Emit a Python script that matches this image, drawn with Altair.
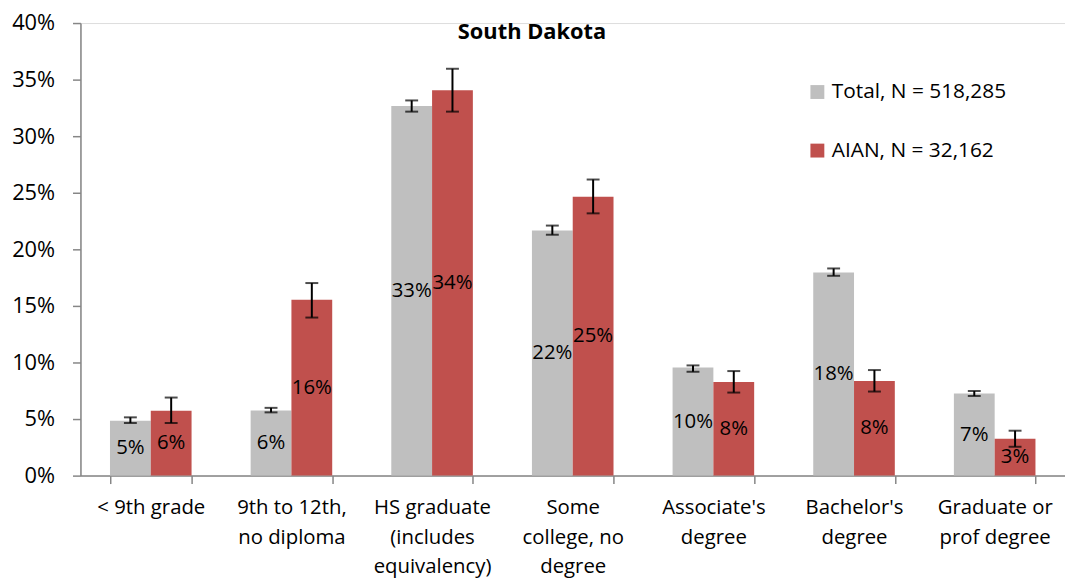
import altair as alt
import pandas as pd

categories = [
    "<  9th grade",
    "9th to 12th,\nno diploma",
    "HS graduate\n(includes\nequivalency)",
    "Some\ncollege, no\ndegree",
    "Associate's\ndegree",
    "Bachelor's\ndegree",
    "Graduate or\nprof degree",
]
series = ["Total, N = 518,285", "AIAN, N = 32,162"]
total_vals = [4.85, 5.76, 32.66, 21.67, 9.55, 17.96, 7.25]
total_lo = [4.65, 5.59, 32.17, 21.29, 9.18, 17.66, 7.04]
total_hi = [5.15, 5.99, 33.16, 22.10, 9.74, 18.31, 7.48]
aian_vals = [5.73, 15.55, 34.06, 24.65, 8.27, 8.36, 3.25]
aian_lo = [4.65, 13.97, 32.17, 23.18, 7.34, 7.43, 2.55]
aian_hi = [6.90, 17.02, 35.96, 26.17, 9.24, 9.33, 3.97]
colors = ["#BFBFBF", "#C0504D"]

rows = []
for s, vals, lo, hi in [(series[0], total_vals, total_lo, total_hi),
                        (series[1], aian_vals, aian_lo, aian_hi)]:
    for c, v, l, h in zip(categories, vals, lo, hi):
        rows.append({"cat": c, "series": s, "value": v, "lo": l, "hi": h,
                     "mid": v / 2, "label": f"{round(v):.0f}%"})
df = pd.DataFrame(rows)

FONT = "Open Sans"

xscale = alt.Scale(domain=categories, paddingInner=0.42, paddingOuter=0.21)
xoff = alt.XOffset("series:N", sort=series,
                   scale=alt.Scale(domain=series, paddingInner=0, paddingOuter=0))
yscale = alt.Scale(domain=[0, 40], nice=False)

base = alt.Chart(df)

bars = base.mark_bar(stroke=None).encode(
    x=alt.X("cat:N", sort=categories, scale=xscale, title=None,
            axis=alt.Axis(orient="bottom", labelAngle=0, ticks=True, tickBand="extent",
                          tickColor="#868686", tickSize=8, tickWidth=1.5,
                          domain=True, domainColor="#868686", domainWidth=1.5,
                          labelExpr="split(datum.label, '\\n')",
                          labelFont=FONT, labelFontSize=20.5, labelColor="#000000",
                          labelLineHeight=30, labelPadding=14, labelBaseline="top")),
    xOffset=xoff,
    y=alt.Y("value:Q", scale=yscale, title=None,
            axis=alt.Axis(values=list(range(0, 45, 5)), labelExpr="datum.value + '%'",
                          grid=False, domainColor="#868686", domainWidth=1.5,
                          tickColor="#868686", tickSize=8, tickWidth=1.5,
                          labelFont=FONT, labelFontSize=22, labelColor="#000000",
                          labelPadding=18)),
    color=alt.Color("series:N", sort=series,
                    scale=alt.Scale(domain=series, range=colors),
                    legend=alt.Legend(title=None, orient="none", legendX=732, legendY=59,
                                      symbolType="square", symbolSize=196,
                                      symbolStrokeWidth=0, labelLimit=400,
                                      labelFont=FONT, labelFontSize=21, labelColor="#000000",
                                      rowPadding=37, labelOffset=4)),
)

err = base.mark_rule(color="#000000", strokeWidth=2).encode(
    x=alt.X("cat:N", sort=categories, scale=xscale),
    xOffset=xoff,
    y=alt.Y("lo:Q", scale=yscale),
    y2="hi:Q",
)
cap_lo = base.mark_tick(color="#000000", thickness=2, size=13, orient="horizontal").encode(
    x=alt.X("cat:N", sort=categories, scale=xscale),
    xOffset=xoff,
    y=alt.Y("lo:Q", scale=yscale),
)
cap_hi = base.mark_tick(color="#000000", thickness=2, size=13, orient="horizontal").encode(
    x=alt.X("cat:N", sort=categories, scale=xscale),
    xOffset=xoff,
    y=alt.Y("hi:Q", scale=yscale),
)
labels = base.mark_text(font=FONT, fontSize=20.5, color="#000000", baseline="middle").encode(
    x=alt.X("cat:N", sort=categories, scale=xscale),
    xOffset=xoff,
    y=alt.Y("mid:Q", scale=yscale),
    text="label:N",
)

chart = alt.layer(bars, err, cap_lo, cap_hi, labels).properties(
    width=992,
    height=456,
    title=alt.TitleParams("South Dakota", anchor="middle", font=FONT, fontSize=22,
                          fontWeight="bold", color="#000000", offset=-32, dx=-41),
    autosize=alt.AutoSizeParams(type="none"),
    padding={"left": 73, "top": 13, "right": 0, "bottom": 102},
).configure_view(stroke=None).configure(background="white")

chart.save("out.html", embed_options={"renderer": "svg", "actions": False})
